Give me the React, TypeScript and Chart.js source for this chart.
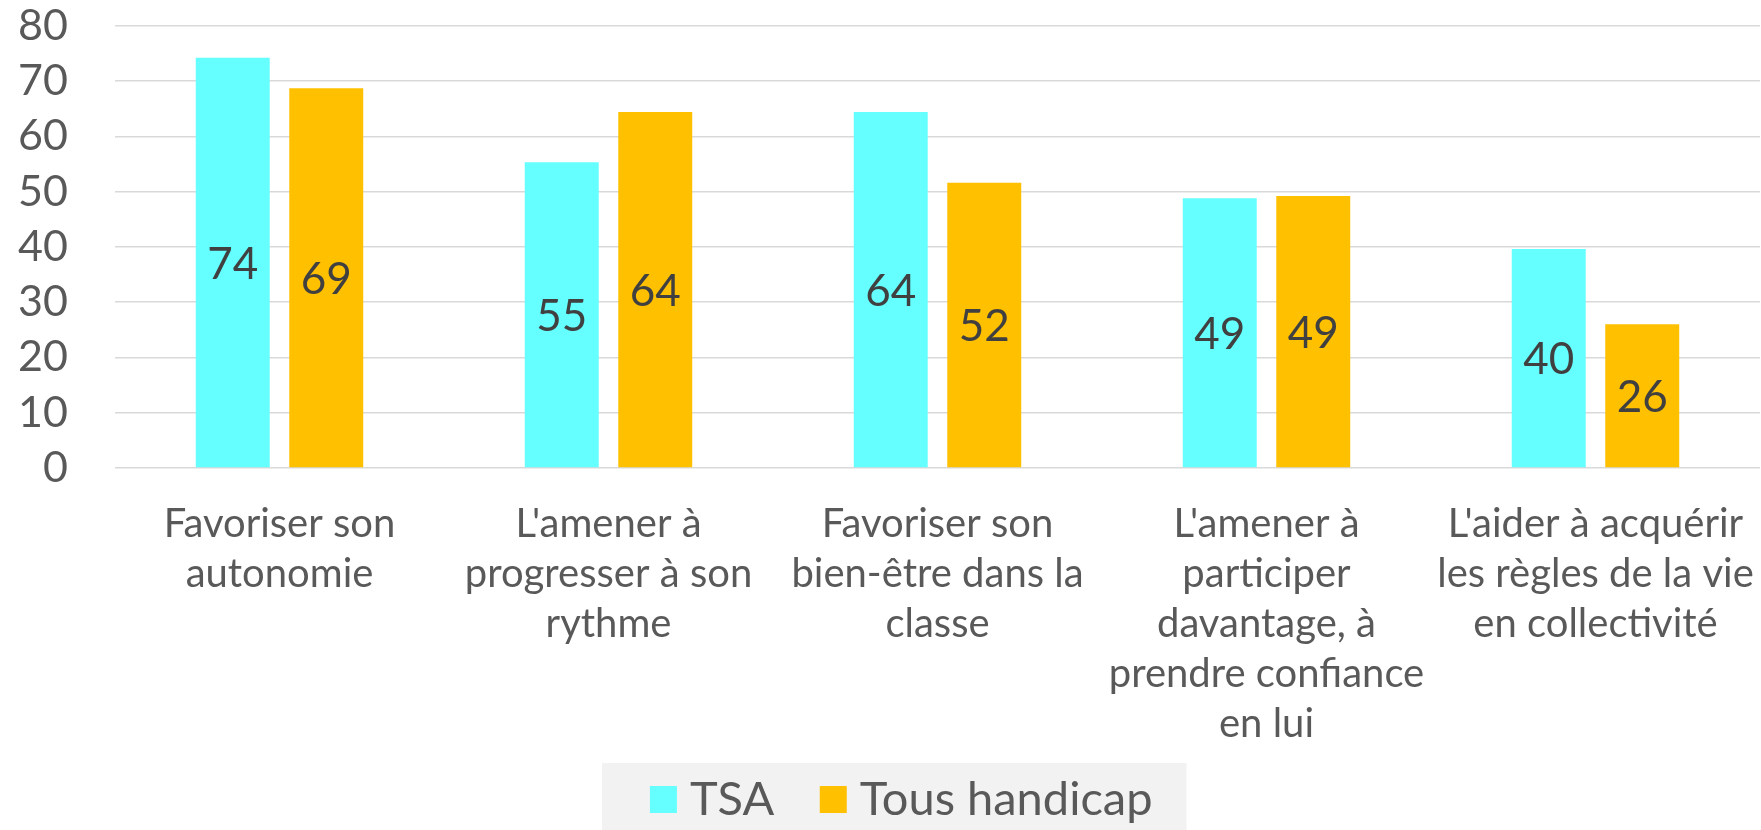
import React, { useEffect, useRef } from "react";
import { Chart, registerables } from "chart.js";

Chart.register(...registerables);

const categories: string[][] = [
  ["Favoriser son", "autonomie"],
  ["L'amener à", "progresser à son", "rythme"],
  ["Favoriser son", "bien-être dans la", "classe"],
  ["L'amener à", "participer", "davantage, à", "prendre confiance", "en lui"],
  ["L'aider à acquérir", "les règles de la vie", "en collectivité"],
];
const seriesNames = ["TSA", "Tous handicap"];
const tsaValues = [74.2, 55.3, 64.4, 48.8, 39.6];
const tousValues = [68.7, 64.4, 51.6, 49.2, 26.0];
const seriesColors = ["#66FFFF", "#FFC000"];
const yMin = 0;
const yMax = 80;
const yStep = 10;

const FONT = "Lato";
const LEGEND_BOX_W = 6;
const LEGEND_BOX_H = 27;

const barLabelsPlugin = {
  id: "barLabels",
  afterDatasetsDraw(chart: any) {
    const ctx = chart.ctx;
    ctx.save();
    ctx.font = `44px ${FONT}`;
    ctx.fillStyle = "#404040";
    ctx.textAlign = "center";
    ctx.textBaseline = "middle";
    chart.data.datasets.forEach((ds: any, i: number) => {
      const meta = chart.getDatasetMeta(i);
      meta.data.forEach((bar: any, j: number) => {
        const p = bar.getProps(["x", "y", "base"], true);
        ctx.fillText(String(Math.round(ds.data[j])), p.x, (p.y + p.base) / 2 + 2);
      });
    });
    ctx.restore();
  },
};

const legendBgPlugin = {
  id: "legendBg",
  beforeDraw(chart: any) {
    const lg = chart.legend;
    if (!lg || !lg.legendHitBoxes || !lg.legendHitBoxes.length) return;
    const hb = lg.legendHitBoxes;
    const first = hb[0];
    const last = hb[hb.length - 1];
    const squareLeft = first.left + LEGEND_BOX_W / 2 - LEGEND_BOX_H / 2;
    const left = squareLeft - 48;
    const right = last.left + last.width + 34;
    const top = first.top - 13;
    const ctx = chart.ctx;
    ctx.save();
    ctx.fillStyle = "#F2F2F2";
    ctx.fillRect(left, top, right - left, chart.height - top);
    ctx.restore();
  },
};

export default function App() {
  const ref = useRef<HTMLCanvasElement | null>(null);

  useEffect(() => {
    document.body.style.margin = "0";
    let chart: Chart | null = null;
    let cancelled = false;
    const make = () => {
      if (cancelled || !ref.current) return;
      chart = new Chart(ref.current, {
        type: "bar",
        data: {
          labels: categories,
          datasets: [
            { label: seriesNames[0], data: tsaValues, backgroundColor: seriesColors[0] },
            { label: seriesNames[1], data: tousValues, backgroundColor: seriesColors[1] },
          ],
        },
        options: {
          responsive: false,
          devicePixelRatio: 1,
          animation: false,
          layout: { padding: { left: 0, right: -52, top: 0, bottom: -3 } },
          datasets: {
            bar: { categoryPercentage: 0.5684, barPercentage: 0.791 },
          },
          plugins: {
            tooltip: { enabled: false },
            legend: {
              position: "bottom",
              labels: {
                usePointStyle: true,
                pointStyle: "rect",
                boxWidth: LEGEND_BOX_W,
                boxHeight: LEGEND_BOX_H,
                padding: 56,
                color: "#595959",
                font: { family: FONT, size: 47 },
              },
            },
          },
          scales: {
            x: {
              grid: { display: false },
              border: { display: false },
              ticks: {
                color: "#595959",
                mirror: true,
                padding: -81,
                maxRotation: 0,
                autoSkip: false,
                font: { family: FONT, size: 40, lineHeight: 1.25 },
              },
              afterFit(scale: any) {
                scale.height = 252;
              },
            },
            y: {
              min: yMin,
              max: yMax,
              grid: {
                color: "#D9D9D9",
                lineWidth: 1.5,
                drawTicks: true,
                tickLength: 47,
                tickColor: "rgba(0,0,0,0)",
              },
              border: { display: false },
              ticks: {
                stepSize: yStep,
                autoSkip: false,
                color: "#595959",
                padding: 0,
                font: { family: FONT, size: 43, lineHeight: 1.2 },
              },
              afterFit(scale: any) {
                scale.width = 115;
              },
            },
            yRight: {
              position: "right",
              display: true,
              grid: { display: false },
              border: { display: false },
              ticks: { display: false },
              afterFit(scale: any) {
                scale.width = 53;
              },
            },
          },
        },
        plugins: [legendBgPlugin, barLabelsPlugin],
      });
    };
    if ((document as any).fonts && (document as any).fonts.load) {
      (document as any).fonts.load(`40px ${FONT}`).then(make, make);
    } else {
      make();
    }
    return () => {
      cancelled = true;
      if (chart) chart.destroy();
    };
  }, []);

  return (
    <div style={{ width: 1761, height: 830, position: "relative" }}>
      <canvas ref={ref} width={1761} height={830} style={{ display: "block" }} />
    </div>
  );
}
